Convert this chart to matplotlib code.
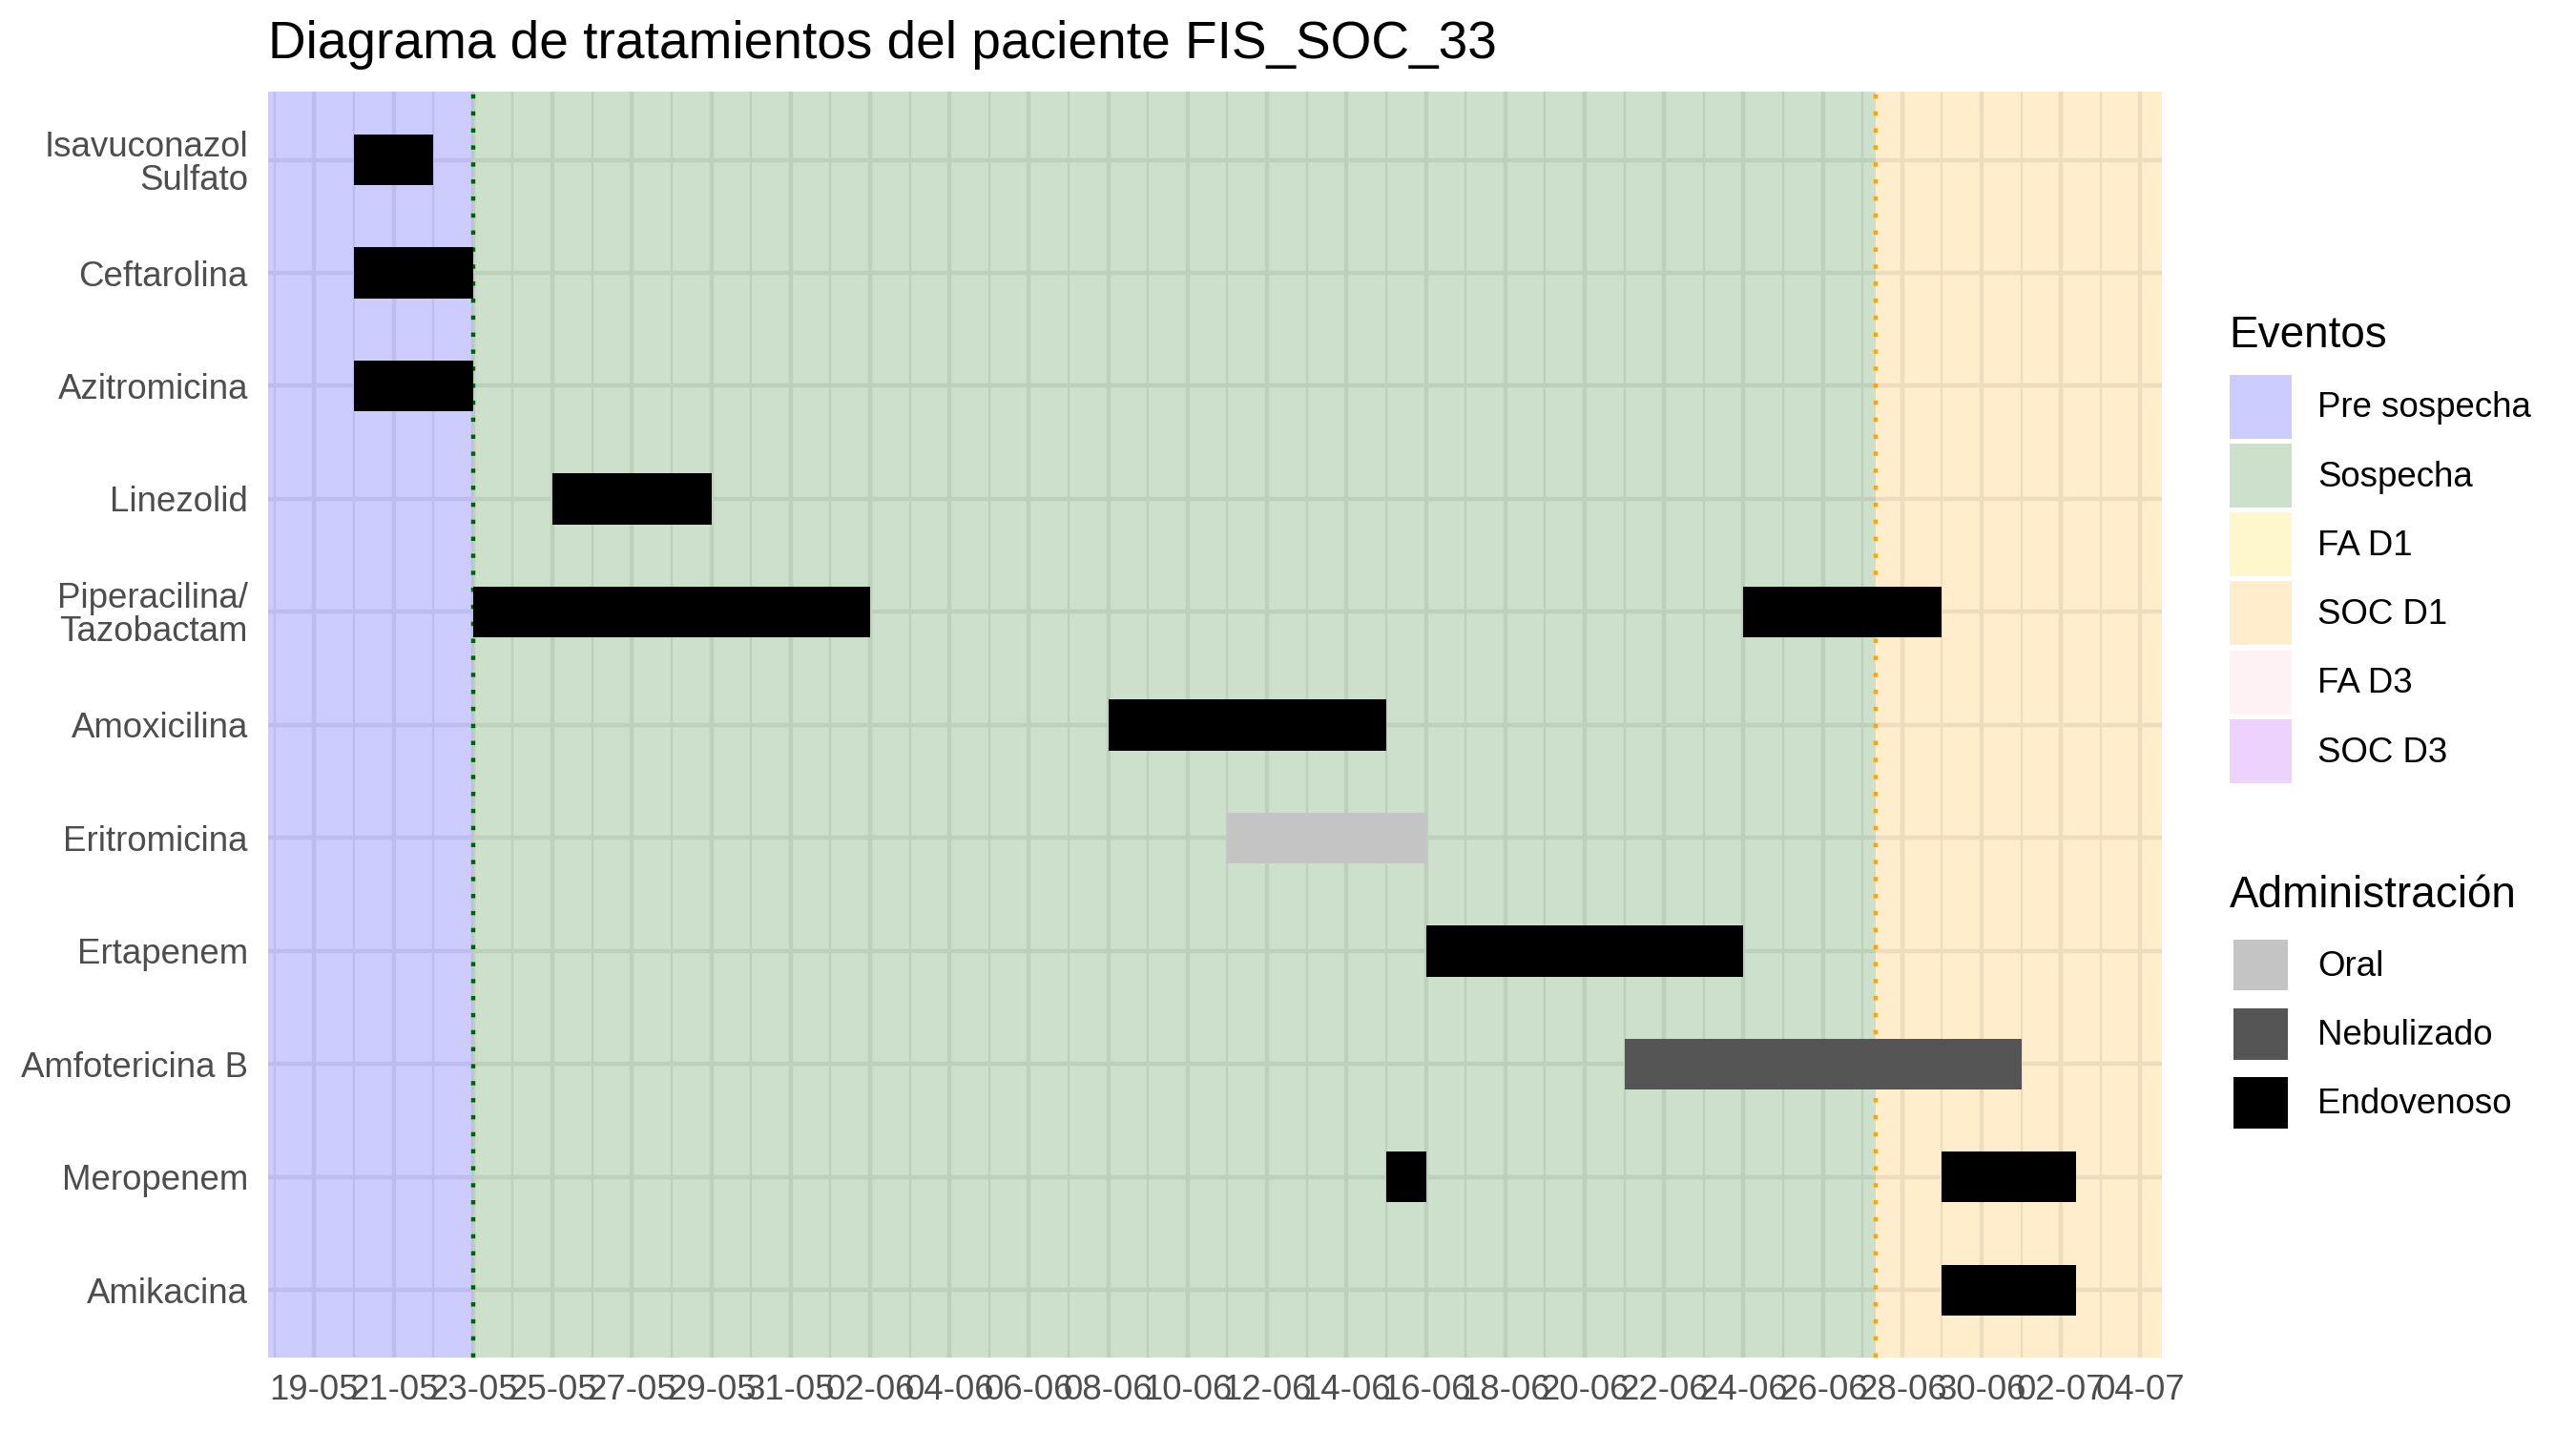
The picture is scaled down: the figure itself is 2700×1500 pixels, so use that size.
import matplotlib

matplotlib.use("Agg")
import matplotlib.dates as mdates
import matplotlib.pyplot as plt
import pandas as pd
from matplotlib.legend_handler import HandlerPatch
from matplotlib.patches import Patch, Rectangle

plt.rcParams["font.family"] = ["Liberation Sans", "DejaVu Sans"]

TITLE = "Diagrama de tratamientos del paciente FIS_SOC_33"

# treatments, top to bottom as they appear on the chart
drugs = [
    "Isavuconazol\nSulfato",
    "Ceftarolina",
    "Azitromicina",
    "Linezolid",
    "Piperacilina/\nTazobactam",
    "Amoxicilina",
    "Eritromicina",
    "Ertapenem",
    "Amfotericina B",
    "Meropenem",
    "Amikacina",
]

# one entry per administration period
bar_drug = [
    "Isavuconazol\nSulfato",
    "Ceftarolina",
    "Azitromicina",
    "Linezolid",
    "Piperacilina/\nTazobactam",
    "Piperacilina/\nTazobactam",
    "Amoxicilina",
    "Eritromicina",
    "Ertapenem",
    "Amfotericina B",
    "Meropenem",
    "Meropenem",
    "Amikacina",
]
bar_start = [
    "2024-05-20", "2024-05-20", "2024-05-20", "2024-05-25", "2024-05-23",
    "2024-06-24", "2024-06-08", "2024-06-11", "2024-06-16", "2024-06-21",
    "2024-06-15", "2024-06-29", "2024-06-29",
]
bar_end = [
    "2024-05-22", "2024-05-23", "2024-05-23", "2024-05-29", "2024-06-02",
    "2024-06-29", "2024-06-15", "2024-06-16", "2024-06-24", "2024-07-01",
    "2024-06-16", "2024-07-02 09:00", "2024-07-02 09:00",
]
bar_route = [
    "Endovenoso", "Endovenoso", "Endovenoso", "Endovenoso", "Endovenoso",
    "Endovenoso", "Endovenoso", "Oral", "Endovenoso", "Nebulizado",
    "Endovenoso", "Endovenoso", "Endovenoso",
]

routes = ["Oral", "Nebulizado", "Endovenoso"]
route_colors = ["#C4C4C4", "#555555", "#000000"]

events = ["Pre sospecha", "Sospecha", "FA D1", "SOC D1", "FA D3", "SOC D3"]
event_colors = ["#0000FF", "#006400", "#FFD700", "#FFA500", "#FFC0CB", "#A020F0"]

# phases present on this patient's timeline and when each new one begins
phases = ["Pre sospecha", "Sospecha", "SOC D1"]
phase_starts = ["2024-05-23 00:00", "2024-06-27 08:00"]

tick_first = "2024-05-19"
tick_last = "2024-07-04"

GRID = "#EBEBEB"
AXIS_TEXT = "#4D4D4D"


def to_num(values):
    return mdates.date2num(pd.to_datetime(values, format="ISO8601"))


def inset_key(legend, orig_handle, xdescent, ydescent, width, height, fontsize):
    # smaller key with a white margin, like the "Administración" legend
    dx, dy = 1.0, 1.65
    return Rectangle((-xdescent + dx, -ydescent + dy), width - 2 * dx, height - 2 * dy)


start = to_num(bar_start)
end = to_num(bar_end)
pad = 0.05 * (end.max() - start.min())
x0, x1 = start.min() - pad, end.max() + pad

fig = plt.figure(figsize=(9, 5), dpi=300)
ax = fig.add_axes([0.104, 0.0511, 0.7353, 0.8846])

event_color = dict(zip(events, event_colors))
edges = [x0] + list(to_num(phase_starts)) + [x1]
for name, a, b in zip(phases, edges[:-1], edges[1:]):
    ax.axvspan(a, b, color=event_color[name], alpha=0.2, lw=0, zorder=1)
for name, a in zip(phases[1:], edges[1:-1]):
    ax.axvline(a, color=event_color[name], lw=1.07, ls=(0, (1, 3)), zorder=2)

ypos = {d: len(drugs) - 1 - i for i, d in enumerate(drugs)}
route_color = dict(zip(routes, route_colors))
ax.barh(
    [ypos[d] for d in bar_drug],
    end - start,
    left=start,
    height=0.45,
    color=[route_color[r] for r in bar_route],
    lw=0,
    zorder=3,
)

ticks = pd.date_range(tick_first, tick_last, freq="2D")
ax.set_xticks(mdates.date2num(ticks), [t.strftime("%d-%m") for t in ticks])
ax.set_xticks(mdates.date2num(ticks - pd.Timedelta(days=1)), minor=True)
ax.set_yticks([ypos[d] for d in drugs], drugs)
for label in ax.get_yticklabels():
    label.set_multialignment("right")
    label.set_linespacing(1.0)

ax.set_xlim(x0, x1)
ax.set_ylim(-0.6, len(drugs) - 0.4)
ax.set_axisbelow(True)
ax.grid(which="major", color=GRID, lw=1.07)
ax.grid(which="minor", axis="x", color=GRID, lw=0.53)
for spine in ax.spines.values():
    spine.set_visible(False)
ax.tick_params(which="both", length=0, labelsize=8.8, labelcolor=AXIS_TEXT)
ax.tick_params(axis="x", pad=4)
ax.tick_params(axis="y", pad=5)

fig.text(0.104, 0.9592, TITLE, fontsize=13.2, va="baseline")

fig.text(0.8654, 0.7572, "Eventos", fontsize=11, va="baseline")
fig.legend(
    [Patch(facecolor=c, alpha=0.2, lw=0) for c in event_colors],
    events,
    loc="upper left",
    bbox_to_anchor=(0.8654, 0.7382),
    frameon=False,
    borderpad=0,
    borderaxespad=0,
    fontsize=8.8,
    handlelength=1.78,
    handleheight=2.438,
    labelspacing=0.14,
    handletextpad=0.75,
)

fig.text(0.8654, 0.3662, "Administración", fontsize=11, va="baseline")
route_handles = [Patch(facecolor=c, lw=0) for c in route_colors]
fig.legend(
    route_handles,
    routes,
    loc="upper left",
    bbox_to_anchor=(0.8654, 0.3479),
    frameon=False,
    borderpad=0,
    borderaxespad=0,
    fontsize=8.8,
    handlelength=1.78,
    handleheight=2.438,
    labelspacing=0.14,
    handletextpad=0.75,
    handler_map={Patch: HandlerPatch(patch_func=inset_key)},
)

fig.savefig("out.png", dpi=300, facecolor="white")
